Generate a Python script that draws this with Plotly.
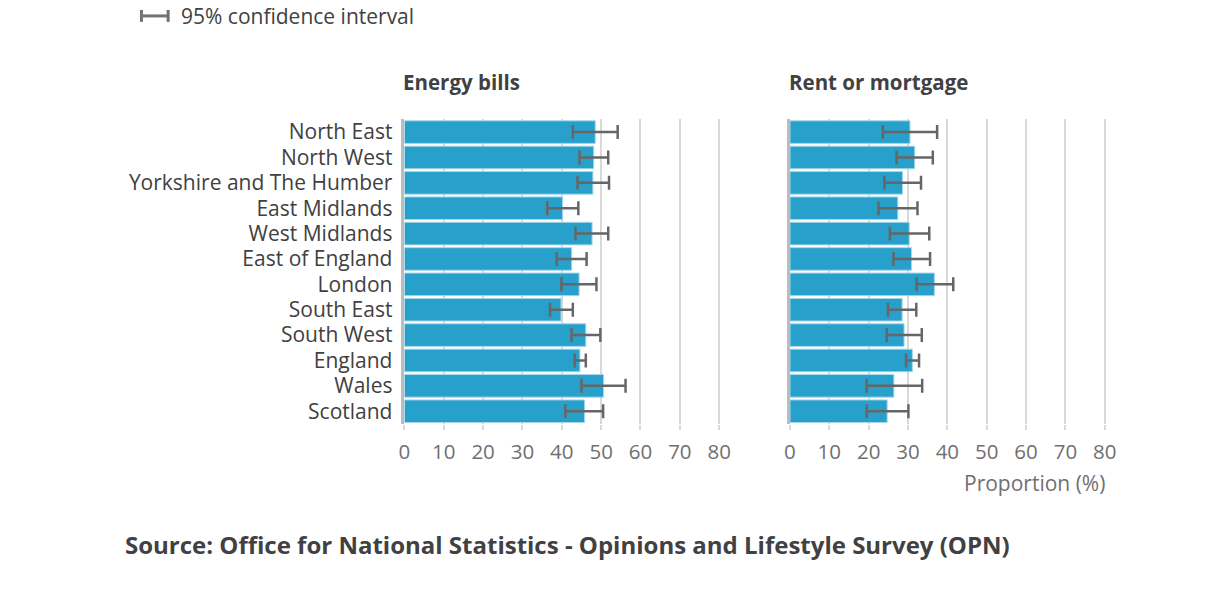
import plotly.graph_objects as go

W, H = 1231, 607

regions = ["North East", "North West", "Yorkshire and The Humber", "East Midlands",
           "West Midlands", "East of England", "London", "South East", "South West",
           "England", "Wales", "Scotland"]

# Energy bills (%), with 95% CI bounds
energy = [48.5, 48.1, 47.9, 40.2, 47.7, 42.5, 44.4, 39.8, 46.1, 44.6, 50.6, 45.8]
energy_lo = [42.8, 44.5, 44.0, 36.3, 43.5, 38.7, 39.9, 37.0, 42.5, 43.3, 45.0, 40.9]
energy_hi = [54.2, 51.8, 52.0, 44.2, 51.8, 46.3, 48.8, 42.8, 49.8, 46.1, 56.2, 50.5]

# Rent or mortgage (%), with 95% CI bounds
rent = [30.5, 31.7, 28.6, 27.4, 30.3, 30.9, 36.7, 28.5, 29.0, 31.1, 26.4, 24.7]
rent_lo = [23.6, 27.1, 24.0, 22.5, 25.4, 26.3, 32.2, 24.9, 24.6, 29.5, 19.5, 19.5]
rent_hi = [37.4, 36.3, 33.3, 32.4, 35.4, 35.6, 41.5, 32.1, 33.5, 32.8, 33.6, 30.1]

x_ticks = [0, 10, 20, 30, 40, 50, 60, 70, 80]

BAR = "#27a0cc"
CI = "#666666"
DARK = "#414042"
GREY = "#707071"
GRID = "#d9d9d9"
FONT = "Open Sans"


def px(x):
    return x / W


def py(y):
    return 1 - y / H


def bar_trace(vals, lo, hi, xa, ya):
    return go.Bar(
        x=vals, y=regions, orientation="h", xaxis=xa, yaxis=ya,
        marker=dict(color=BAR, line=dict(color="#a6d6ea", width=1)),
        error_x=dict(type="data", symmetric=False,
                     array=[h - v for h, v in zip(hi, vals)],
                     arrayminus=[v - l for v, l in zip(vals, lo)],
                     color=CI, thickness=2.5, width=7),
        showlegend=False, hoverinfo="x+y",
    )


fig = go.Figure()
fig.add_trace(bar_trace(energy, energy_lo, energy_hi, "x", "y"))
fig.add_trace(bar_trace(rent, rent_lo, rent_hi, "x2", "y2"))

unit = 3.98  # px per percentage point
xmax = 81
ydom = [py(424), py(118)]

xaxis = dict(range=[0, xmax], tickvals=x_ticks, showgrid=True, gridcolor=GRID,
             gridwidth=1.5, zeroline=False, showline=False,
             ticks="outside", ticklen=5, tickwidth=1.5, tickcolor=GRID,
             tickfont=dict(family=FONT, size=20.5, color=GREY), ticklabelstandoff=4,
             fixedrange=True)
yaxis = dict(autorange="reversed", showline=True, linecolor="#bcbcbc", linewidth=2.5,
             ticks="", showgrid=False, zeroline=False, fixedrange=True, domain=ydom)

fig.update_layout(
    width=W, height=H,
    margin=dict(l=0, r=0, t=0, b=0),
    paper_bgcolor="white", plot_bgcolor="white",
    font=dict(family=FONT, color=DARK),
    bargap=0.11,
    xaxis=dict(xaxis, domain=[px(403), px(403 + xmax * unit)], anchor="y"),
    xaxis2=dict(xaxis, domain=[px(793), px(793 + xmax * unit)], anchor="y2"),
    yaxis=dict(yaxis, anchor="x", tickfont=dict(family=FONT, size=21, color=DARK),
               ticklabelstandoff=5),
    yaxis2=dict(yaxis, anchor="x2", showticklabels=False),
)

annotations = [
    dict(text="<b>Energy bills</b>", x=px(400), y=py(80), xanchor="left", yanchor="middle",
         font=dict(size=20.5, color=DARK)),
    dict(text="<b>Rent or mortgage</b>", x=px(790), y=py(80), xanchor="left", yanchor="middle",
         font=dict(size=20.5, color=DARK)),
    dict(text="Proportion (%)", x=px(1114), y=py(483), xanchor="right", yanchor="middle",
         font=dict(size=21, color=GREY)),
    dict(text="<b>Source: Office for National Statistics - Opinions and Lifestyle Survey (OPN)</b>",
         x=px(118), y=py(545), xanchor="left", yanchor="middle",
         font=dict(size=24, color=DARK)),
    dict(text="95% confidence interval", x=px(175), y=py(14), xanchor="left", yanchor="middle",
         font=dict(size=21, color=DARK)),
]
for a in annotations:
    a.update(xref="paper", yref="paper", showarrow=False)
fig.update_layout(annotations=annotations)

# legend symbol for the confidence interval
lg = dict(color="#737373", width=3)
fig.add_shape(type="line", xref="paper", yref="paper", x0=px(136), x1=px(165), y0=py(14), y1=py(14), line=lg)
fig.add_shape(type="line", xref="paper", yref="paper", x0=px(137), x1=px(137), y0=py(8), y1=py(20), line=lg)
fig.add_shape(type="line", xref="paper", yref="paper", x0=px(164), x1=px(164), y0=py(8), y1=py(20), line=lg)

# drop the page's default body margin so the figure sits at the window's corner
fig.write_html("out.html", config={"displayModeBar": False},
               post_script="document.body.style.margin='0';")
